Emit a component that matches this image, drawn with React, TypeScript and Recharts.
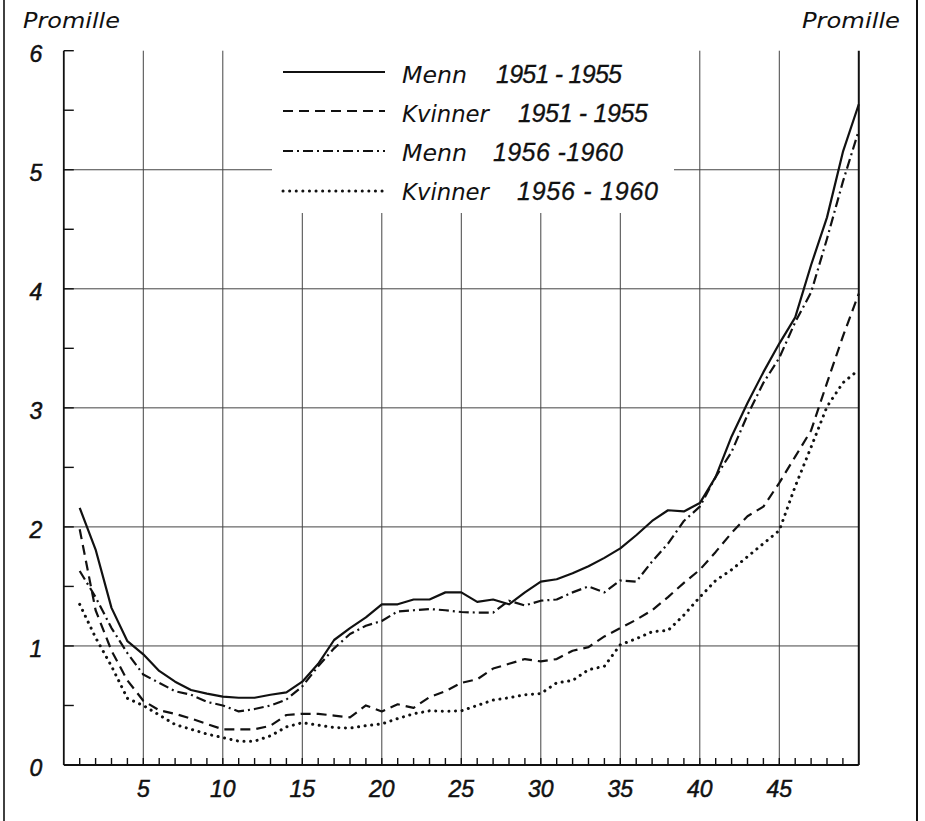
import React from 'react';
import { LineChart, Line, XAxis, YAxis, ReferenceLine, Legend } from 'recharts';

const ages = [1, 2, 3, 4, 5, 6, 7, 8, 9, 10, 11, 12, 13, 14, 15, 16, 17, 18, 19, 20, 21, 22, 23, 24, 25, 26, 27, 28, 29, 30, 31, 32, 33, 34, 35, 36, 37, 38, 39, 40, 41, 42, 43, 44, 45, 46, 47, 48, 49, 50];

const menn5155 = [2.16, 1.81, 1.32, 1.04, 0.93, 0.79, 0.7, 0.63, 0.6, 0.575, 0.565, 0.565, 0.59, 0.61, 0.7, 0.85, 1.05, 1.15, 1.24, 1.35, 1.35, 1.39, 1.39, 1.45, 1.45, 1.37, 1.39, 1.35, 1.45, 1.54, 1.56, 1.61, 1.67, 1.74, 1.82, 1.93, 2.05, 2.14, 2.13, 2.2, 2.42, 2.76, 3.04, 3.3, 3.54, 3.76, 4.2, 4.6, 5.15, 5.55];
const kvinner5155 = [1.98, 1.3, 0.96, 0.71, 0.54, 0.46, 0.43, 0.39, 0.345, 0.3, 0.3, 0.3, 0.33, 0.42, 0.43, 0.43, 0.415, 0.4, 0.5, 0.45, 0.51, 0.48, 0.57, 0.62, 0.69, 0.72, 0.81, 0.85, 0.89, 0.87, 0.89, 0.96, 0.99, 1.08, 1.15, 1.22, 1.3, 1.41, 1.53, 1.64, 1.79, 1.95, 2.09, 2.17, 2.37, 2.59, 2.81, 3.21, 3.6, 3.96];
const menn5660 = [1.63, 1.41, 1.15, 0.94, 0.76, 0.69, 0.62, 0.59, 0.53, 0.5, 0.45, 0.47, 0.5, 0.55, 0.66, 0.83, 0.98, 1.1, 1.17, 1.21, 1.29, 1.3, 1.31, 1.3, 1.285, 1.28, 1.28, 1.38, 1.34, 1.38, 1.39, 1.45, 1.5, 1.45, 1.55, 1.54, 1.71, 1.86, 2.05, 2.17, 2.42, 2.63, 2.94, 3.21, 3.42, 3.72, 3.97, 4.42, 4.9, 5.33];
const kvinner5660 = [1.35, 1.07, 0.83, 0.56, 0.5, 0.42, 0.34, 0.3, 0.26, 0.23, 0.2, 0.2, 0.245, 0.32, 0.355, 0.335, 0.315, 0.31, 0.33, 0.345, 0.39, 0.43, 0.455, 0.45, 0.455, 0.5, 0.545, 0.565, 0.59, 0.6, 0.69, 0.71, 0.8, 0.83, 1.01, 1.06, 1.12, 1.13, 1.26, 1.41, 1.55, 1.64, 1.75, 1.86, 1.97, 2.34, 2.67, 3.01, 3.21, 3.32];

const xTicks = [1, 2, 3, 4, 5, 6, 7, 8, 9, 10, 11, 12, 13, 14, 15, 16, 17, 18, 19, 20, 21, 22, 23, 24, 25, 26, 27, 28, 29, 30, 31, 32, 33, 34, 35, 36, 37, 38, 39, 40, 41, 42, 43, 44, 45, 46, 47, 48, 49];
const xLabels = [5, 10, 15, 20, 25, 30, 35, 40, 45];
const yTicks = [0, 0.5, 1, 1.5, 2, 2.5, 3, 3.5, 4, 4.5, 5, 5.5, 6];
const yLabels = [0, 1, 2, 3, 4, 5, 6];
const gridX = [5, 10, 15, 20, 25, 30, 35, 40, 45];
const gridY = [1, 2, 3, 4, 5];

const seriesKeys = ['menn5155', 'kvinner5155', 'menn5660', 'kvinner5660'];
const seriesNames = ['Menn', 'Kvinner', 'Menn', 'Kvinner'];
const seriesYears = ['1951 - 1955', '1951 - 1955', '1956 -1960', '1956 - 1960'];
const unitLabel = 'Promille';

const data = ages.map((a, i) => ({
  age: a,
  menn5155: menn5155[i],
  kvinner5155: kvinner5155[i],
  menn5660: menn5660[i],
  kvinner5660: kvinner5660[i],
}));

const FONT = '"Liberation Sans", Arial, sans-serif';
const WIDE = '"DejaVu Sans", "Liberation Sans", sans-serif';
const INK = '#111';

const styles = [
  { dash: undefined as string | undefined, width: 2.2, cap: 'butt' as const },
  { dash: '10 6', width: 2.2, cap: 'butt' as const },
  { dash: '10 4 2 4', width: 2.2, cap: 'butt' as const },
  { dash: '0.1 6.5', width: 3, cap: 'round' as const },
];

const tickText = {
  fontFamily: FONT,
  fontStyle: 'italic' as const,
  fontSize: 23,
  fill: INK,
  stroke: INK,
  strokeWidth: 0.5,
};

const XTick = (props: any) => {
  const { x, y, payload } = props;
  const v = payload.value;
  return (
    <g>
      <line x1={x} x2={x} y1={y} y2={y - 7} stroke={INK} strokeWidth={1.4} />
      {xLabels.includes(v) && (
        <text x={x} y={y + 32} textAnchor="middle" {...tickText}>
          {v}
        </text>
      )}
    </g>
  );
};

const YTickLeft = (props: any) => {
  const { x, y, payload } = props;
  const v = payload.value;
  return (
    <g>
      {v > 0 && <line x1={x} x2={x + 10} y1={y} y2={y} stroke={INK} strokeWidth={1.4} />}
      {yLabels.includes(v) && (
        <text x={x - 28} y={y + 11} textAnchor="middle" {...tickText}>
          {v}
        </text>
      )}
    </g>
  );
};

const YTickRight = (props: any) => {
  const { x, y, payload } = props;
  const v = payload.value;
  return (
    <g>
      {v > 0 && <line x1={x} x2={x - 8} y1={y} y2={y} stroke={INK} strokeWidth={1.4} />}
      {yLabels.includes(v) && (
        <text x={x + 26} y={y + 11} textAnchor="middle" {...tickText}>
          {v}
        </text>
      )}
    </g>
  );
};

const rowLineY = [72, 111, 151, 191];
const rowTextY = [83, 122, 161, 200];
const yearsX = [224, 246, 221, 245];
const yearsW = [126, 130, 130, 141];
const namesW = [65, 87, 65, 87];

const LegendBox = () => (
  <svg width={402} height={213} style={{ display: 'block' }}>
    {seriesKeys.map((k, i) => (
      <g key={k}>
        <line
          x1={11}
          x2={113}
          y1={rowLineY[i]}
          y2={rowLineY[i]}
          stroke={INK}
          strokeWidth={styles[i].width}
          strokeDasharray={styles[i].dash}
          strokeLinecap={styles[i].cap}
        />
        <text x={130} y={rowTextY[i]} fontFamily={WIDE} fontStyle="italic" fontSize={23} fill={INK} textLength={namesW[i]} lengthAdjust="spacingAndGlyphs">
          {seriesNames[i]}
        </text>
        <text x={yearsX[i]} y={rowTextY[i]} fontFamily={FONT} fontStyle="italic" fontSize={25} fill={INK} stroke={INK} strokeWidth={0.3} textLength={yearsW[i]} lengthAdjust="spacing" style={{ whiteSpace: 'pre' }}>
          {seriesYears[i]}
        </text>
      </g>
    ))}
  </svg>
);

export default function App() {
  return (
    <div style={{ position: 'absolute', left: 0, top: 0, width: 925, height: 821, background: '#fff' }}>
      <LineChart width={925} height={821} data={data} margin={{ top: 50.7, right: 16.2, bottom: 26, left: 13.8 }}>
        <XAxis
          dataKey="age"
          type="number"
          domain={[0, 50]}
          ticks={xTicks}
          interval={0}
          height={30}
          tickSize={0}
          tickMargin={0}
          tickLine={false}
          axisLine={{ stroke: INK, strokeWidth: 1.8 }}
          tick={XTick}
        />
        <YAxis
          yAxisId="l"
          domain={[0, 6]}
          ticks={yTicks}
          interval={0}
          width={50}
          tickSize={0}
          tickMargin={0}
          tickLine={false}
          axisLine={{ stroke: INK, strokeWidth: 1.8 }}
          tick={YTickLeft}
        />
        <YAxis
          yAxisId="r"
          orientation="right"
          domain={[0, 6]}
          ticks={yTicks}
          interval={0}
          width={50}
          tickSize={0}
          tickMargin={0}
          tickLine={false}
          axisLine={{ stroke: INK, strokeWidth: 2 }}
          tick={YTickRight}
        />
        {gridX.map((g) => (
          <ReferenceLine key={'gx' + g} x={g} yAxisId="l" stroke="#444" strokeWidth={1} />
        ))}
        {gridY.map((g) => (
          <ReferenceLine key={'gy' + g} y={g} yAxisId="l" stroke="#444" strokeWidth={1} />
        ))}
        {seriesKeys.map((k, i) => (
          <Line
            key={k}
            yAxisId="l"
            dataKey={k}
            name={seriesNames[i] + ' ' + seriesYears[i]}
            type="linear"
            stroke={INK}
            strokeWidth={styles[i].width}
            strokeDasharray={styles[i].dash}
            strokeLinecap={styles[i].cap}
            strokeLinejoin="round"
            dot={false}
            activeDot={false}
            isAnimationActive={false}
          />
        ))}
        <Legend
          layout="vertical"
          align="center"
          verticalAlign="middle"
          wrapperStyle={{ position: 'absolute', left: 272, top: 0, width: 402, height: 213, background: '#fff', margin: 0, padding: 0 }}
          content={() => <LegendBox />}
        />
      </LineChart>
      <svg width={925} height={821} style={{ position: 'absolute', left: 0, top: 0, pointerEvents: 'none' }}>
        <line x1={4} x2={4} y1={0} y2={821} stroke={INK} strokeWidth={1.6} />
        <line x1={917} x2={917} y1={0} y2={821} stroke={INK} strokeWidth={2} />
        <text x={23} y={28} fontFamily={WIDE} fontStyle="italic" fontSize={22} fill={INK} textLength={97} lengthAdjust="spacingAndGlyphs">
          {unitLabel}
        </text>
        <text x={802} y={28} fontFamily={WIDE} fontStyle="italic" fontSize={22} fill={INK} textLength={98} lengthAdjust="spacingAndGlyphs">
          {unitLabel}
        </text>
      </svg>
    </div>
  );
}
